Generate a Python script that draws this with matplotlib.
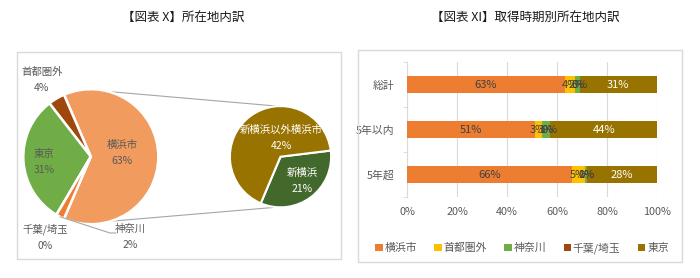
import numpy as np
import matplotlib
matplotlib.use("Agg")
import matplotlib.pyplot as plt
from matplotlib.patches import Rectangle

plt.rcParams['font.family'] = ['Noto Sans CJK JP', 'DejaVu Sans']

# ---------------- data ----------------
pie_labels = ['横浜市', '首都圏外', '東京', '千葉/埼玉', '神奈川']
pie_values = [63, 4, 31, 0, 2]
pie_colors = ['#F19B5E', '#9E480E', '#70AD47', '#C55A11', '#ED7D31']

sub_labels = ['新横浜', '新横浜以外横浜市']
sub_values = [21, 42]
sub_colors = ['#43682B', '#997300']

bar_categories = ['総計', '5年以内', '5年超']
bar_series = ['横浜市', '首都圏外', '神奈川', '千葉/埼玉', '東京']
bar_values = {
    '横浜市':   [63, 51, 66],
    '首都圏外': [4, 3, 5],
    '神奈川':   [2, 3, 1],
    '千葉/埼玉': [0, 0, 0],
    '東京':     [31, 44, 28],
}
bar_colors = ['#ED7D31', '#FFC000', '#70AD47', '#9E480E', '#997300']
bar_label_colors = ['#404040', '#404040', '#404040', '#404040', 'white']
xticks = [0, 20, 40, 60, 80, 100]

W, H = 700, 278
fig = plt.figure(figsize=(W / 100, H / 100), dpi=100)

def fx(px):
    return px / W

def fy(py):
    return 1 - py / H

# frames
for (x0, y0, x1, y1) in [(17, 52, 341, 259), (358, 50, 682, 262)]:
    fig.patches.append(Rectangle((fx(x0), fy(y1)), fx(x1 - x0), (y1 - y0) / H,
                                 transform=fig.transFigure, fill=False,
                                 edgecolor='#D9D9D9', linewidth=1.0))

txt = '#595959'
fig.text(fx(183), fy(18), '【図表 X】所在地内訳', ha='center', va='center', fontsize=9, color='#1a1a1a')
fig.text(fx(525), fy(18), '【図表 XI】取得時期別所在地内訳', ha='center', va='center', fontsize=9, color='#1a1a1a')

# ---------------- pie of pie ----------------
ax = fig.add_axes([0, 0, 0.5, 1])
c1 = (90.8, H - 156.7)
r1 = 67.5
c2 = (280.5, H - 156.7)
r2 = 50.6
total = sum(pie_values)
start = -pie_values[0] / total * 360 / 2
ax.pie(pie_values, colors=pie_colors, startangle=start, counterclock=True,
       center=c1, radius=r1,
       wedgeprops=dict(edgecolor='white', linewidth=1.8))
sub_start = -113
ax.pie(sub_values, colors=sub_colors, startangle=sub_start, counterclock=True,
       center=c2, radius=r2, explode=[0.04, 0],
       wedgeprops=dict(edgecolor='white', linewidth=1.5))
ax.set_xlim(0, 350)
ax.set_ylim(0, H)
ax.set_aspect('equal', adjustable='box')
ax.axis('off')

# connector lines
for a1, a2 in [(75, 93), (-73, -94)]:
    p1 = (c1[0] + r1 * np.cos(np.radians(a1)), c1[1] + r1 * np.sin(np.radians(a1)))
    p2 = (c2[0] + r2 * np.cos(np.radians(a2)), c2[1] + r2 * np.sin(np.radians(a2)))
    ax.plot([p1[0], p2[0]], [p1[1], p2[1]], color='#A6A6A6', lw=0.8, zorder=0)

fs = 7.5
ax.text(122, H - 153, f'{pie_labels[0]}\n{pie_values[0]}%', ha='center', va='center',
        fontsize=fs, color=txt, linespacing=1.7)
ax.text(44, H - 162, f'{pie_labels[2]}\n{pie_values[2]}%', ha='center', va='center',
        fontsize=fs, color=txt, linespacing=1.7)
ax.text(42, H - 80, f'{pie_labels[1]}\n{pie_values[1]}%', ha='center', va='center',
        fontsize=fs, color=txt, linespacing=1.7)
ax.text(45, H - 237, f'{pie_labels[3]}\n{pie_values[3]}%', ha='center', va='center',
        fontsize=fs, color=txt, linespacing=1.7)
ax.text(130, H - 237, f'{pie_labels[4]}\n{pie_values[4]}%', ha='center', va='center',
        fontsize=fs, color=txt, linespacing=1.7)
# leader for 神奈川
a_k = np.radians(start - pie_values[4] / total * 360 / 2)
pk = (c1[0] + r1 * np.cos(a_k), c1[1] + r1 * np.sin(a_k))
ax.plot([pk[0], 110, 116], [pk[1], H - 233, H - 233], color='#A6A6A6', lw=0.8)

ax.text(281, H - 138, f'{sub_labels[1]}\n{sub_values[1]}%', ha='center', va='center',
        fontsize=fs, color='white', linespacing=1.7)
ax.text(302, H - 181, f'{sub_labels[0]}\n{sub_values[0]}%', ha='center', va='center',
        fontsize=fs, color='white', linespacing=1.7)

# ---------------- stacked bars ----------------
bx = fig.add_axes([fx(407), fy(197), fx(657 - 407), (197 - 62) / H])
y = np.arange(len(bar_categories))
left = np.zeros(len(bar_categories))
for name, col, lc in zip(bar_series, bar_colors, bar_label_colors):
    vals = np.array(bar_values[name], dtype=float)
    bx.barh(y, vals, left=left, height=0.39, color=col, label=name, zorder=3)
    for yi, v, l in zip(y, vals, left):
        bx.text(l + v / 2, yi, f'{int(v)}%', ha='center', va='center', fontsize=8,
                color=lc, zorder=4)
    left += vals
bx.set_xlim(0, 100)
bx.set_ylim(2.45, -0.45)
bx.set_xticks(xticks)
bx.set_xticklabels([f'{t}%' for t in xticks])
bx.set_yticks(y)
bx.set_yticklabels(bar_categories)
bx.set_yticks([-0.5, 0.5, 1.5, 2.5], minor=True)
bx.tick_params(axis='y', which='major', length=0, pad=9, labelsize=7.8, labelcolor=txt)
bx.tick_params(axis='y', which='minor', length=3, color='#D9D9D9', direction='out')
bx.tick_params(axis='x', length=0, labelsize=7.8, labelcolor=txt, pad=7)
bx.grid(axis='x', color='#D9D9D9', lw=0.8, zorder=0)
for s in ['top', 'right', 'bottom']:
    bx.spines[s].set_visible(False)
bx.spines['left'].set_color('#D9D9D9')
bx.set_facecolor('none')

fig.legend(loc='center', bbox_to_anchor=(fx(522), fy(248)), ncol=5, frameon=False,
           fontsize=7.8, handlelength=0.7, handleheight=0.7, handletextpad=0.15,
           columnspacing=1.6, labelcolor=txt)

fig.savefig('out.png', dpi=100)
